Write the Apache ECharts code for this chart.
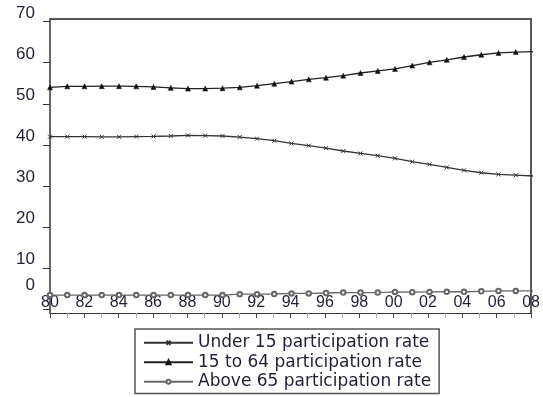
<!DOCTYPE html>
<html>
<head>
<meta charset="utf-8">
<script src="https://cdn.jsdelivr.net/npm/echarts@6/dist/echarts.min.js"></script>
<style>
html,body{margin:0;padding:0;background:#fff;}
#chart{width:543px;height:397px;}
</style>
</head>
<body>
<div id="chart"></div>
<script>
const years = [1980,1981,1982,1983,1984,1985,1986,1987,1988,1989,1990,1991,1992,1993,1994,1995,1996,1997,1998,1999,2000,2001,2002,2003,2004,2005,2006,2007,2008];
const under15 = [42.0,42.0,42.0,41.95,41.95,42.0,42.05,42.15,42.3,42.25,42.15,41.9,41.5,41.0,40.35,39.8,39.2,38.5,37.9,37.35,36.7,35.9,35.25,34.5,33.8,33.2,32.8,32.6,32.4];
const age15to64 = [54.0,54.25,54.25,54.3,54.3,54.25,54.1,53.9,53.7,53.7,53.8,54.0,54.4,54.9,55.4,55.95,56.35,56.85,57.5,58.0,58.5,59.3,60.1,60.7,61.4,61.95,62.4,62.6,62.7];
const above65 = [3.4,3.4,3.4,3.4,3.4,3.4,3.4,3.4,3.4,3.4,3.4,3.6,3.6,3.65,3.8,3.8,3.9,4.0,4.0,4.0,4.15,4.1,4.15,4.2,4.2,4.3,4.4,4.4,4.4];
const seriesNames = ['Under 15 participation rate','15 to 64 participation rate','Above 65 participation rate'];
const yTicks = {min:0, max:70, interval:10};
const xTicks = {min:1980, max:2008, interval:2};

const txt = '#1f1f38';
const endMark = 'path://M0,0L0,10';
function build(vals){
  return vals.map((v,i)=> i===vals.length-1 ? {value:[years[i],v], symbol:endMark, symbolSize:[1,6]} : [years[i],v]);
}
const chart = echarts.init(document.getElementById('chart'), null, {renderer:'canvas'});
chart.setOption({
  animation:false,
  backgroundColor:'#fff',
  grid:[
    {left:50, right:10, top:19, bottom:84},
    {left:50, right:10, top:21.7, bottom:88}
  ],
  xAxis:[
    {gridIndex:0, type:'value', position:'bottom', min:xTicks.min, max:xTicks.max, interval:xTicks.interval,
     axisLine:{show:true, onZero:false, lineStyle:{color:'#333', width:1}},
     axisTick:{show:true, length:5, lineStyle:{color:'#444', width:1}},
     minorTick:{show:true, splitNumber:2, length:5, lineStyle:{color:'#aaa', width:1}},
     axisLabel:{inside:true, margin:2, fontSize:16, fontFamily:'Liberation Sans', color:txt,
       formatter:v=>String(v%100).padStart(2,'0')},
     splitLine:{show:false}},
    {gridIndex:0, type:'value', position:'top', min:xTicks.min, max:xTicks.max,
     axisLine:{show:true, onZero:false, lineStyle:{color:'#555', width:2}},
     axisTick:{show:false}, axisLabel:{show:false}, splitLine:{show:false}},
    {gridIndex:1, type:'value', min:xTicks.min, max:xTicks.max, show:false}
  ],
  yAxis:[
    {gridIndex:0, type:'value', position:'left', min:0, max:1,
     axisLine:{show:true, onZero:false, lineStyle:{color:'#333', width:1.5}},
     axisTick:{show:false}, axisLabel:{show:false}, splitLine:{show:false}},
    {gridIndex:0, type:'value', position:'right', min:0, max:1,
     axisLine:{show:true, onZero:false, lineStyle:{color:'#222', width:1.5}},
     axisTick:{show:false}, axisLabel:{show:false}, splitLine:{show:false}},
    {gridIndex:1, type:'value', position:'left', min:yTicks.min, max:yTicks.max, interval:yTicks.interval,
     axisLine:{show:false, onZero:false},
     axisTick:{show:true, length:7, lineStyle:{color:'#333', width:1}},
     axisLabel:{margin:15, verticalAlign:'bottom', fontSize:17, fontFamily:'Liberation Sans', color:txt,
       formatter:v=> v===0 ? '{z|0}' : String(v),
       rich:{z:{padding:[0,0,15,0], fontSize:17, fontFamily:'Liberation Sans', color:txt}}},
     splitLine:{show:false}}
  ],
  legend:{
    orient:'vertical', left:135, top:329,
    data:seriesNames,
    itemWidth:49, itemHeight:5, itemGap:0,
    padding:[4,8,2,8],
    borderColor:'#555', borderWidth:1.5,
    textStyle:{fontSize:17, fontFamily:'DejaVu Sans', color:txt, lineHeight:19.5},
    selectedMode:false
  },
  series:[
    {name:seriesNames[0], type:'line', xAxisIndex:2, yAxisIndex:2, data:build(under15),
     symbol:'path://M0,0L10,10M0,10L10,0', symbolSize:4,
     lineStyle:{color:'#333', width:1.3}, itemStyle:{color:'#333', borderColor:'#333', borderWidth:1}},
    {name:seriesNames[1], type:'line', xAxisIndex:2, yAxisIndex:2, data:build(age15to64),
     symbol:'triangle', symbolSize:5,
     lineStyle:{color:'#222', width:1.3}, itemStyle:{color:'#111', borderColor:'#111', borderWidth:0.5}},
    {name:seriesNames[2], type:'line', xAxisIndex:2, yAxisIndex:2, data:build(above65),
     symbol:'emptyCircle', symbolSize:4.5,
     lineStyle:{color:'#666', width:1.3}, itemStyle:{color:'#666', borderColor:'#666', borderWidth:1}}
  ]
});
</script>
</body>
</html>
